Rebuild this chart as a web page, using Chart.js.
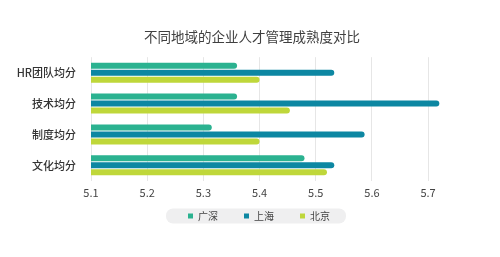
<!DOCTYPE html>
<html>
<head>
<meta charset="utf-8">
<script src="https://cdn.jsdelivr.net/npm/chart.js@4"></script>
<style>
  html, body { margin: 0; padding: 0; background: #fff; }
  #wrap { width: 500px; height: 257px; }
</style>
</head>
<body>
<div id="wrap"><canvas id="c" width="500" height="257"></canvas></div>
<script>
// data
const categories = ['HR团队均分', '技术均分', '制度均分', '文化均分'];
const guangshen = [5.36, 5.36, 5.315, 5.48];
const shanghai = [5.533, 5.72, 5.587, 5.533];
const beijing = [5.40, 5.454, 5.40, 5.52];
const tickValues = [5.1, 5.2, 5.3, 5.4, 5.5, 5.6, 5.7];

const FONT = "'Noto Sans CJK SC', 'Noto Sans', sans-serif";
const LEGEND_LIFT = 19;
const LEGEND_SHIFT = 7;

// nudge the legend closer to the axis, and put a grey pill behind it
const legendBg = {
  id: 'legendBg',
  afterLayout(chart) {
    const lg = chart.legend;
    if (!lg) return;
    lg.top -= LEGEND_LIFT;
    lg.bottom -= LEGEND_LIFT;
    lg.left += LEGEND_SHIFT;
    lg.right += LEGEND_SHIFT;
  },
  beforeDraw(chart) {
    const lg = chart.legend;
    if (!lg || !lg.legendHitBoxes || !lg.legendHitBoxes.length) return;
    const boxes = lg.legendHitBoxes;
    const first = boxes[0], last = boxes[boxes.length - 1];
    const x0 = first.left - 22, x1 = last.left + last.width + 16;
    const yc = first.top + first.height / 2;
    const h = 15;
    const ctx = chart.ctx;
    ctx.save();
    ctx.fillStyle = '#efeff0';
    ctx.beginPath();
    ctx.roundRect(x0, yc - h / 2, x1 - x0, h, 7);
    ctx.fill();
    ctx.restore();
  }
};

const ctx = document.getElementById('c').getContext('2d');
new Chart(ctx, {
  type: 'bar',
  data: {
    labels: categories,
    datasets: [
      { label: '广深', data: guangshen, backgroundColor: '#2bb290' },
      { label: '上海', data: shanghai, backgroundColor: '#0d87a2' },
      { label: '北京', data: beijing, backgroundColor: '#bfd73a' },
    ],
  },
  options: {
    indexAxis: 'y',
    responsive: false,
    animation: false,
    layout: { padding: { top: 20, right: 0, bottom: 7, left: 4 } },
    datasets: {
      bar: { categoryPercentage: 0.68, barPercentage: 0.86, borderRadius: 3, borderSkipped: 'start' }
    },
    scales: {
      x: {
        min: 5.1,
        max: 5.828,
        afterBuildTicks(scale) { scale.ticks = tickValues.map(v => ({ value: v })); },
        grid: { color: '#e6e6e6', drawTicks: false },
        border: { display: false },
        ticks: {
          color: '#444', padding: 5, font: { family: FONT, size: 11 },
          callback: v => Number(v).toFixed(1),
        },
      },
      y: {
        afterFit(scale) { scale.width = 87; },
        grid: { display: false },
        border: { display: false },
        ticks: { color: '#333', padding: 7, font: { family: FONT, size: 11, weight: '500' } },
      },
    },
    plugins: {
      title: {
        display: true,
        text: '不同地域的企业人才管理成熟度对比',
        color: '#404040',
        font: { family: FONT, size: 13.5, weight: 'normal' },
        padding: { top: 9, bottom: 12 },
      },
      legend: {
        position: 'bottom',
        labels: {
          color: '#444',
          boxWidth: 5,
          boxHeight: 5,
          padding: 26,
          font: { family: FONT, size: 10 },
        },
      },
      tooltip: { enabled: false },
    },
  },
  plugins: [legendBg],
});
</script>
</body>
</html>
